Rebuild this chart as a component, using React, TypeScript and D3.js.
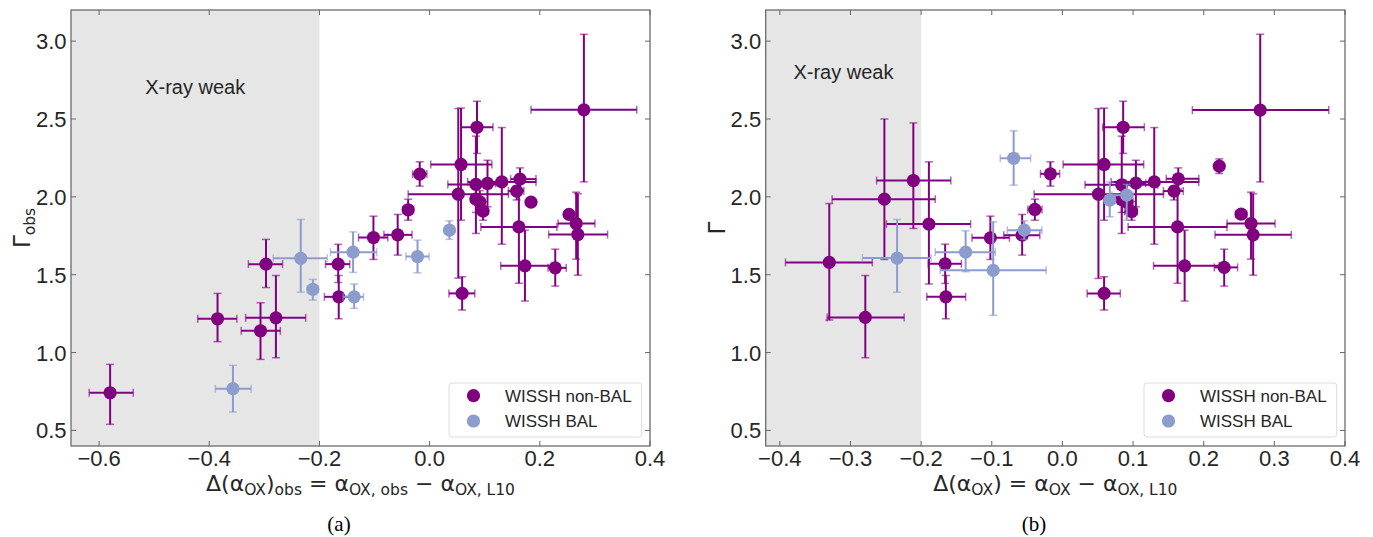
import React from "react";
import * as d3 from "d3";

// [x, y, xLow, xHigh, yLow, yHigh]
type Pt = [number, number, number, number, number, number];

// Panel (a): observed
const nonBalObs: Pt[] = [
  [-0.58, 0.742, -0.618, -0.538, 0.539, 0.924],
  [-0.385, 1.217, -0.421, -0.35, 1.07, 1.38],
  [-0.297, 1.568, -0.329, -0.267, 1.418, 1.727],
  [-0.307, 1.14, -0.342, -0.271, 0.956, 1.32],
  [-0.279, 1.223, -0.334, -0.225, 0.967, 1.495],
  [-0.166, 1.568, -0.189, -0.145, 1.45, 1.695],
  [-0.165, 1.358, -0.191, -0.14, 1.217, 1.495],
  [-0.102, 1.739, -0.129, -0.076, 1.598, 1.876],
  [-0.058, 1.756, -0.083, -0.032, 1.626, 1.887],
  [-0.039, 1.917, -0.049, -0.029, 1.85, 1.985],
  [-0.018, 2.146, -0.031, -0.005, 2.069, 2.225],
  [0.052, 2.017, -0.039, 0.143, 1.478, 2.567],
  [0.057, 2.208, 0.002, 0.113, 1.85, 2.57],
  [0.086, 2.447, 0.057, 0.115, 2.279, 2.614],
  [0.084, 2.08, 0.033, 0.135, 1.765, 2.39],
  [0.105, 2.086, 0.09, 0.12, 1.936, 2.235],
  [0.131, 2.096, 0.069, 0.193, 1.696, 2.445],
  [0.164, 2.114, 0.147, 0.193, 2.05, 2.186],
  [0.158, 2.037, 0.143, 0.171, 1.98, 2.07],
  [0.162, 1.807, 0.093, 0.231, 1.445, 2.1],
  [0.173, 1.557, 0.129, 0.222, 1.331, 1.786],
  [0.228, 1.544, 0.215, 0.248, 1.427, 1.664],
  [0.059, 1.38, 0.035, 0.082, 1.273, 1.487],
  [0.269, 1.758, 0.216, 0.323, 1.497, 2.02],
  [0.266, 1.829, 0.233, 0.3, 1.6, 2.03],
  [0.253, 1.887, 0.245, 0.261, 1.86, 1.915],
  [0.184, 1.966, 0.184, 0.184, 1.966, 1.966],
  [0.28, 2.559, 0.184, 0.376, 2.096, 3.044],
  [0.084, 1.985, 0.075, 0.093, 1.9, 2.05],
  [0.091, 1.968, 0.083, 0.1, 1.9, 2.04],
  [0.097, 1.908, 0.088, 0.106, 1.85, 1.97],
];

const balObs: Pt[] = [
  [-0.357, 0.768, -0.389, -0.324, 0.618, 0.918],
  [-0.234, 1.605, -0.284, -0.186, 1.388, 1.855],
  [-0.212, 1.406, -0.222, -0.202, 1.337, 1.47],
  [-0.139, 1.645, -0.18, -0.096, 1.515, 1.775],
  [-0.137, 1.358, -0.157, -0.12, 1.284, 1.44],
  [-0.022, 1.617, -0.043, -0.001, 1.512, 1.722],
  [0.036, 1.786, 0.028, 0.044, 1.727, 1.846],
];

// Panel (b): intrinsic
const nonBalIntr: Pt[] = [
  [0.28, 2.557, 0.184, 0.377, 2.096, 3.044],
  [0.222, 2.197, 0.216, 0.228, 2.15, 2.244],
  [0.086, 2.447, 0.057, 0.116, 2.279, 2.614],
  [0.059, 2.208, 0.001, 0.115, 1.85, 2.57],
  [-0.017, 2.148, -0.031, -0.004, 2.069, 2.225],
  [-0.039, 1.919, -0.049, -0.029, 1.85, 1.985],
  [0.051, 2.017, -0.04, 0.143, 1.476, 2.567],
  [0.084, 2.077, 0.032, 0.135, 1.765, 2.39],
  [0.104, 2.088, 0.09, 0.118, 1.936, 2.235],
  [0.13, 2.096, 0.069, 0.193, 1.696, 2.445],
  [0.164, 2.116, 0.147, 0.193, 2.05, 2.186],
  [0.158, 2.037, 0.143, 0.171, 1.98, 2.07],
  [0.163, 1.807, 0.093, 0.233, 1.445, 2.1],
  [0.253, 1.889, 0.245, 0.261, 1.86, 1.915],
  [0.267, 1.829, 0.233, 0.301, 1.6, 2.03],
  [0.27, 1.756, 0.216, 0.324, 1.497, 2.02],
  [0.084, 1.983, 0.075, 0.093, 1.9, 2.05],
  [0.091, 1.966, 0.083, 0.1, 1.9, 2.04],
  [0.098, 1.906, 0.088, 0.106, 1.85, 1.97],
  [0.059, 1.38, 0.035, 0.082, 1.273, 1.487],
  [0.173, 1.557, 0.129, 0.222, 1.331, 1.786],
  [0.229, 1.547, 0.215, 0.248, 1.427, 1.664],
  [-0.057, 1.754, -0.083, -0.032, 1.626, 1.887],
  [-0.102, 1.737, -0.128, -0.075, 1.598, 1.876],
  [-0.252, 1.985, -0.326, -0.18, 1.598, 2.5],
  [-0.211, 2.105, -0.263, -0.158, 1.797, 2.475],
  [-0.189, 1.825, -0.249, -0.13, 1.44, 2.225],
  [-0.166, 1.57, -0.19, -0.143, 1.444, 1.696],
  [-0.165, 1.358, -0.192, -0.137, 1.217, 1.495],
  [-0.33, 1.579, -0.392, -0.269, 1.209, 1.957],
  [-0.279, 1.226, -0.333, -0.224, 0.967, 1.495],
];

const balIntr: Pt[] = [
  [-0.069, 2.248, -0.088, -0.045, 2.075, 2.424],
  [-0.054, 1.786, -0.078, -0.029, 1.727, 1.846],
  [-0.137, 1.645, -0.18, -0.095, 1.519, 1.782],
  [-0.234, 1.607, -0.283, -0.186, 1.388, 1.855],
  [-0.098, 1.528, -0.173, -0.023, 1.239, 1.84],
  [0.067, 1.979, 0.06, 0.074, 1.872, 2.096],
  [0.091, 2.011, 0.07, 0.1, 1.85, 2.08],
];

const xTicksA = [-0.6, -0.4, -0.2, 0.0, 0.2, 0.4];
const xTicksB = [-0.4, -0.3, -0.2, -0.1, 0.0, 0.1, 0.2, 0.3, 0.4];
const yTicks = [0.5, 1.0, 1.5, 2.0, 2.5, 3.0];
const legendLabels = ["WISSH non-BAL", "WISSH BAL"];
const weakLabel = "X-ray weak";
const weakEdge = -0.2;

const PURPLE = "#800080";
const BLUE = "#8c9ccc";
const SANS = "'Liberation Sans', Arial, sans-serif";
const MATH = "'DejaVu Sans', sans-serif";
const TXT = "#262626";
const fmt = d3.format(".1f");

type PanelProps = {
  x0: number;
  x1: number;
  xDomain: [number, number];
  xTicks: number[];
  nonBal: Pt[];
  bal: Pt[];
  weakY: number;
  obs: boolean;
  caption: string;
  captionX: number;
};

const Y0 = 10;
const Y1 = 446;

function ErrPoint({ p, xs, ys, color }: { p: Pt; xs: any; ys: any; color: string }) {
  const [x, y, xl, xh, yl, yh] = p;
  const cx = xs(x);
  const cy = ys(y);
  const c = 4;
  return (
    <g>
      {xh > xl && (
        <g>
          <line x1={xs(xl)} x2={xs(xh)} y1={cy} y2={cy} stroke={color} strokeWidth={2} />
          <line x1={xs(xl)} x2={xs(xl)} y1={cy - c} y2={cy + c} stroke={color} strokeWidth={1.5} opacity={0.6} />
          <line x1={xs(xh)} x2={xs(xh)} y1={cy - c} y2={cy + c} stroke={color} strokeWidth={1.5} opacity={0.6} />
        </g>
      )}
      {yh > yl && (
        <g>
          <line x1={cx} x2={cx} y1={ys(yl)} y2={ys(yh)} stroke={color} strokeWidth={2} />
          <line x1={cx - c} x2={cx + c} y1={ys(yl)} y2={ys(yl)} stroke={color} strokeWidth={1.5} opacity={0.6} />
          <line x1={cx - c} x2={cx + c} y1={ys(yh)} y2={ys(yh)} stroke={color} strokeWidth={1.5} opacity={0.6} />
        </g>
      )}
    </g>
  );
}

function Panel(props: PanelProps) {
  const { x0, x1, xDomain, xTicks, nonBal, bal, weakY, obs, caption, captionX } = props;
  const xs = d3.scaleLinear().domain(xDomain).range([x0, x1]);
  const ys = d3.scaleLinear().domain([0.4, 3.2]).range([Y1, Y0]);
  const tl = 5;
  const lgR = x1 - 8.3;
  const lgW = 192.7;
  const lgB = Y1 - 9;
  const lgH = 54;
  const lgL = lgR - lgW;
  const lgT = lgB - lgH;
  const xc = (x0 + x1) / 2;
  const yc = (Y0 + Y1) / 2;
  const sub = 15.5;
  return (
    <g>
      <rect x={x0} y={Y0} width={xs(weakEdge) - x0} height={Y1 - Y0} fill="#e6e6e6" />
      <text x={(x0 + xs(weakEdge)) / 2} y={ys(weakY)} textAnchor="middle" fontFamily={SANS} fontSize={20} fill={TXT}>
        {weakLabel}
      </text>
      {nonBal.map((p, i) => (
        <ErrPoint key={"ne" + i} p={p} xs={xs} ys={ys} color={PURPLE} />
      ))}
      {nonBal.map((p, i) => (
        <circle key={"nc" + i} cx={xs(p[0])} cy={ys(p[1])} r={6.6} fill={PURPLE} />
      ))}
      {bal.map((p, i) => (
        <ErrPoint key={"be" + i} p={p} xs={xs} ys={ys} color={BLUE} />
      ))}
      {bal.map((p, i) => (
        <circle key={"bc" + i} cx={xs(p[0])} cy={ys(p[1])} r={6.6} fill={BLUE} />
      ))}
      {xTicks.map((t) => (
        <g key={"xt" + t}>
          <line x1={xs(t)} x2={xs(t)} y1={Y1} y2={Y1 - tl} stroke="#666" strokeWidth={1} />
          <line x1={xs(t)} x2={xs(t)} y1={Y0} y2={Y0 + tl} stroke="#666" strokeWidth={1} />
          <text x={xs(t)} y={466} textAnchor="middle" fontFamily={SANS} fontSize={22} fill={TXT}>
            {fmt(t)}
          </text>
        </g>
      ))}
      {yTicks.map((t) => (
        <g key={"yt" + t}>
          <line x1={x0} x2={x0 + tl} y1={ys(t)} y2={ys(t)} stroke="#666" strokeWidth={1} />
          <line x1={x1} x2={x1 - tl} y1={ys(t)} y2={ys(t)} stroke="#666" strokeWidth={1} />
          <text x={x0 - 4.5} y={ys(t) + 8} textAnchor="end" fontFamily={SANS} fontSize={22} fill={TXT}>
            {fmt(t)}
          </text>
        </g>
      ))}
      <rect x={x0} y={Y0} width={x1 - x0} height={Y1 - Y0} fill="none" stroke="#666" strokeWidth={1.25} />
      <rect x={lgL} y={lgT} width={lgW} height={lgH} rx={3} fill="#fff" fillOpacity={0.85} stroke="#dcdcdc" strokeWidth={1} />
      {legendLabels.map((lab, i) => (
        <g key={lab}>
          <circle cx={lgL + 24.5} cy={lgT + 12.7 + i * 25.3} r={6.6} fill={i === 0 ? PURPLE : BLUE} />
          <text x={lgL + 56} y={lgT + 12.7 + i * 25.3 + 6} fontFamily={SANS} fontSize={17} fill={TXT}>
            {lab}
          </text>
        </g>
      ))}
      <text
        transform={`translate(${x0 - 41},${yc}) rotate(-90)`}
        textAnchor="middle"
        fontFamily={MATH}
        fontSize={23}
        fill={TXT}
      >
        Γ{obs && <tspan fontSize={sub} dy={5}>obs</tspan>}
      </text>
      <text x={xc} y={491} textAnchor="middle" fontFamily={MATH} fontSize={22} fill={TXT}>
        {obs ? (
          <>
            Δ(α<tspan fontSize={sub} dy={4}>OX</tspan>
            <tspan dy={-4}>)</tspan>
            <tspan fontSize={sub} dy={4}>obs</tspan>
            <tspan dy={-4}> = α</tspan>
            <tspan fontSize={sub} dy={4}>OX, obs</tspan>
            <tspan dy={-4}> − α</tspan>
            <tspan fontSize={sub} dy={4}>OX, L10</tspan>
          </>
        ) : (
          <>
            Δ(α<tspan fontSize={sub} dy={4}>OX</tspan>
            <tspan dy={-4}>) = α</tspan>
            <tspan fontSize={sub} dy={4}>OX</tspan>
            <tspan dy={-4}> − α</tspan>
            <tspan fontSize={sub} dy={4}>OX, L10</tspan>
          </>
        )}
      </text>
      <text x={captionX} y={531} textAnchor="middle" fontFamily="'Liberation Serif', 'Times New Roman', serif" fontSize={21} fill="#000">
        {caption}
      </text>
    </g>
  );
}

export default function App() {
  return (
    <svg width={1373} height={537} style={{ position: "absolute", left: 0, top: 0, background: "#fff" }}>
      <rect x={0} y={0} width={1373} height={537} fill="#fff" />
      <Panel
        x0={71}
        x1={650}
        xDomain={[-0.651, 0.4]}
        xTicks={xTicksA}
        nonBal={nonBalObs}
        bal={balObs}
        weakY={2.66}
        obs={true}
        caption="(a)"
        captionX={339}
      />
      <Panel
        x0={765.7}
        x1={1345}
        xDomain={[-0.42, 0.4]}
        xTicks={xTicksB}
        nonBal={nonBalIntr}
        bal={balIntr}
        weakY={2.76}
        obs={false}
        caption="(b)"
        captionX={1034}
      />
    </svg>
  );
}
